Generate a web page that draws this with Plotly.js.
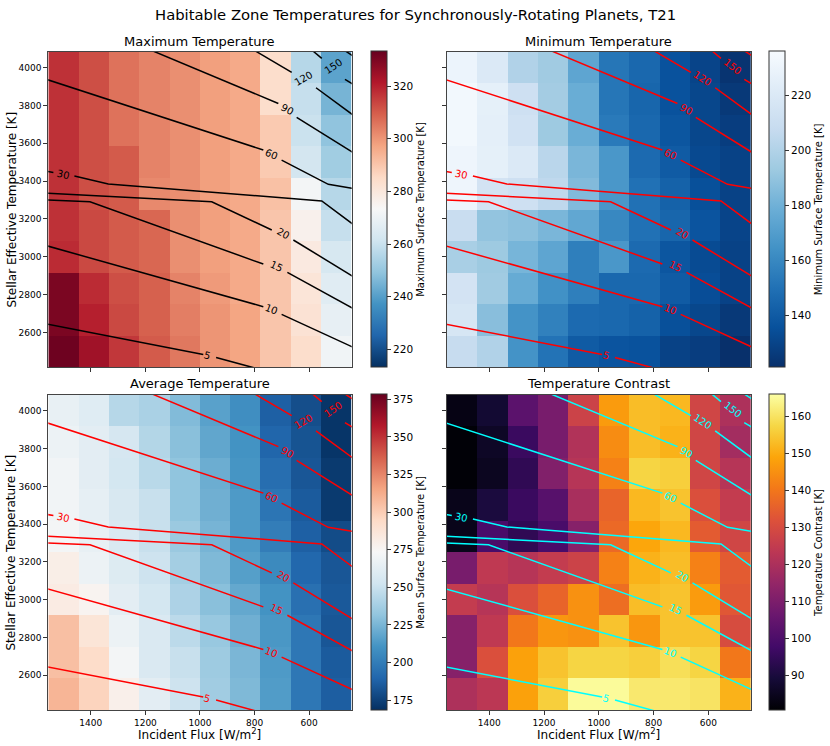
<!DOCTYPE html>
<html>
<head>
<meta charset="utf-8">
<script src="https://cdn.plot.ly/plotly-3.0.1.min.js"></script>
<style>
  body { margin: 0; background: #fff; }
  #chart { width: 830px; height: 746px; }
</style>
</head>
<body>
<div id="chart"></div>
<script>
// grid of the simulations
var flux = [1500, 1388.9, 1277.8, 1166.7, 1055.6, 944.4, 833.3, 722.2, 611.1, 500];
var teff = [2500, 2666.7, 2833.3, 3000, 3166.7, 3333.3, 3500, 3666.7, 3833.3, 4000];

// rows go from the coolest star (2500 K) up to 4000 K, columns follow flux
var maxTemp = [
  [332, 324, 316, 310, 305, 300, 297, 290, 284, 271],
  [330, 320, 313, 309, 304, 300, 297, 290, 282, 268],
  [330, 318, 312, 309, 303, 299, 296, 290, 281, 266],
  [318, 313, 310, 308, 301, 298, 296, 290, 279, 263],
  [317, 313, 310, 308, 301, 298, 296, 290, 276, 259],
  [317, 312, 310, 302, 301, 298, 296, 291, 272, 256],
  [317, 312, 310, 303, 301, 298, 296, 289, 262, 252],
  [317, 312, 306, 303, 301, 298, 296, 289, 260, 249],
  [317, 312, 306, 303, 301, 298, 296, 284, 259, 245],
  [317, 312, 306, 303, 301, 298, 296, 284, 256, 241]
];

var minTemp = [
  [208, 200, 165, 151, 140, 137, 136, 129, 127, 121],
  [217, 187, 165, 157, 147, 146, 143, 135, 131, 125],
  [215, 194, 177, 164, 156, 146, 146, 140, 134, 129],
  [197, 193, 182, 174, 156, 167, 147, 138, 133, 129],
  [209, 190, 188, 183, 175, 160, 150, 145, 137, 130],
  [231, 215, 212, 205, 185, 167, 150, 143, 135, 129],
  [231, 226, 220, 203, 183, 167, 147, 140, 132, 129],
  [233, 225, 214, 193, 178, 154, 146, 138, 131, 127],
  [233, 226, 212, 195, 178, 152, 145, 136, 131, 125],
  [230, 220, 200, 194, 174, 152, 146, 136, 130, 123]
];

var meanTemp = [
  [309, 297, 279, 262, 251, 236, 226, 214, 197, 186],
  [305, 293, 271, 257, 249, 235, 225, 213, 197, 185],
  [305, 287, 267, 257, 245, 233, 222, 212, 197, 183],
  [282, 276, 262, 254, 240, 229, 219, 210, 194, 184],
  [280, 267, 259, 251, 237, 226, 215, 206, 190, 183],
  [271, 265, 257, 249, 234, 224, 213, 200, 187, 179],
  [270, 264, 256, 249, 231, 222, 213, 196, 185, 172],
  [270, 262, 254, 244, 231, 221, 211, 193, 183, 172],
  [267, 262, 255, 242, 229, 218, 210, 189, 182, 170],
  [265, 260, 243, 239, 227, 216, 208, 187, 180, 170]
];

var contrast = [
  [120, 123, 148, 156, 165, 165, 161, 161, 160, 151],
  [112, 131, 148, 154, 157, 157, 156, 159, 157, 140],
  [112, 124, 140, 146, 145, 154, 146, 154, 154, 130],
  [125, 122, 131, 136, 145, 138, 153, 154, 147, 133],
  [109, 124, 122, 125, 127, 142, 151, 153, 142, 134],
  [84, 99, 94, 99, 112, 137, 149, 152, 134, 128],
  [84, 90, 96, 102, 119, 136, 152, 154, 131, 125],
  [81, 85, 94, 111, 122, 142, 157, 156, 128, 122],
  [81, 86, 96, 109, 121, 144, 153, 151, 128, 118],
  [83, 88, 103, 109, 127, 147, 153, 152, 128, 120]
];

// rotation period contours (days); null = gap for the label
var contourFlux = [
  [1560, 988, null, 941, 811, 650],                 // 5
  [1560, 768, null, 701, 444, 400],                 // 10
  [1560, 1403, 768, null, 680, 444, 400],           // 15
  [1560, 957, 737, null, 658, 444, 400],            // 20
  [1560, 1537, null, 1460, 1336, 554, 444, 400],    // 30
  [1560, 768, null, 701, 530, 444, 400],            // 60
  [1300, 1165, 713, null, 646, 444, 400],           // 90
  [850, 792, 664, null, 575, 444, 400],             // 120
  [620, 585, 554, null, 469, 444, 400],             // 150
  [500, 463, 444, 400]                              // 180
];
var contourTeff = [
  [2645, 2485, null, 2469, 2417, 2354],
  [3058, 2737, null, 2696, 2526, 2497],
  [3300, 3291, 2962, null, 2918, 2732, 2697],
  [3336, 3291, 3142, null, 3089, 2901, 2862],
  [3451, 3446, null, 3427, 3385, 3295, 3177, 3130],
  [3936, 3564, null, 3511, 3383, 3362, 3351],
  [4164, 4083, 3810, null, 3737, 3555, 3515],
  [4132, 4083, 3974, null, 3893, 3754, 3707],
  [4128, 4083, 4048, null, 3937, 3916, 3878],
  [4119, 4083, 4065, 4022]
];

var labelText = ['5', '10', '15', '20', '30', '60', '90', '120', '150'];
var labelFlux = [973, 737, 719, 695, 1501, 737, 680, 621, 512];
var labelTeff = [2480, 2723, 2948, 3124, 3437, 3541, 3779, 3942, 4004];
var labelAngle = [15, 21, 25, 29, 12, 23, 28, 33, 38];
var labelAngleFlip = [15, 21, 25, 29, 12, 23, 28, -30, -34];

var RdBu_r = [[0, '#053061'], [0.1, '#2166ac'], [0.2, '#4393c3'], [0.3, '#92c5de'], [0.4, '#d1e5f0'],
  [0.5, '#f7f7f7'], [0.6, '#fddbc7'], [0.7, '#f4a582'], [0.8, '#d6604d'], [0.9, '#b2182b'], [1, '#67001f']];
var Blues_r = [[0, '#08306b'], [0.125, '#08519c'], [0.25, '#2171b5'], [0.375, '#4292c6'], [0.5, '#6baed6'],
  [0.625, '#9ecae1'], [0.75, '#c6dbef'], [0.875, '#deebf7'], [1, '#f7fbff']];
var Inferno = [[0, '#000004'], [0.1, '#160b39'], [0.2, '#420a68'], [0.3, '#6a176e'], [0.4, '#932667'],
  [0.5, '#bc3754'], [0.6, '#dd513a'], [0.7, '#f37819'], [0.8, '#fca50a'], [0.9, '#f6d746'], [1, '#fcffa4']];

var panels = [
  {title: 'Maximum Temperature', z: maxTemp, scale: RdBu_r, zmin: 213.15, zmax: 333.15, dtick: 20,
   cbTitle: 'Maximum Surface Temperature [K]', line: 'black', angles: labelAngleFlip},
  {title: 'Minimum Temperature', z: minTemp, scale: Blues_r, zmin: 121.2, zmax: 236.1, dtick: 20,
   cbTitle: 'Minimum Surface Temperature [K]', line: 'red', angles: labelAngle},
  {title: 'Average Temperature', z: meanTemp, scale: RdBu_r, zmin: 168.15, zmax: 378.15, dtick: 25,
   cbTitle: 'Mean Surface Temperature [K]', line: 'red', angles: labelAngleFlip},
  {title: 'Temperature Contrast', z: contrast, scale: Inferno, zmin: 80.5, zmax: 165.9, dtick: 10,
   cbTitle: 'Temperature Contrast [K]', line: 'cyan', angles: labelAngle}
];

var xDom = [[0.0582, 0.4237], [0.5382, 0.9048]];
var yDom = [[0.5076, 0.9307], [0.0483, 0.4705]];
var cbX = [0.4466, 0.9269];
var cbY = [0.7192, 0.2594];

var font = 'DejaVu Sans';
var data = [];
var layout = {
  width: 830,
  height: 746,
  margin: {l: 0, r: 0, t: 0, b: 0},
  paper_bgcolor: 'white',
  plot_bgcolor: 'white',
  showlegend: false,
  font: {family: font, color: '#000'},
  annotations: [{
    text: 'Habitable Zone Temperatures for Synchronously-Rotating Planets, T21',
    xref: 'paper', yref: 'paper', x: 0.5, y: 0.9812, xanchor: 'center', yanchor: 'middle',
    showarrow: false, font: {size: 14.8}
  }]
};

// join the contour pieces into one line trace per panel
var allFlux = [];
var allTeff = [];
for (var c = 0; c < contourFlux.length; c++) {
  allFlux = allFlux.concat(contourFlux[c], [null]);
  allTeff = allTeff.concat(contourTeff[c], [null]);
}

for (var i = 0; i < panels.length; i++) {
  var p = panels[i];
  var col = i % 2;
  var row = Math.floor(i / 2);
  var sfx = i === 0 ? '' : String(i + 1);

  data.push({
    type: 'heatmap',
    x: flux,
    y: teff,
    z: p.z,
    xaxis: 'x' + sfx,
    yaxis: 'y' + sfx,
    colorscale: p.scale,
    zmin: p.zmin,
    zmax: p.zmax,
    hoverinfo: 'skip',
    colorbar: {
      x: cbX[col], xanchor: 'left', y: cbY[row], yanchor: 'middle',
      len: 0.4231, lenmode: 'fraction', thickness: 16, thicknessmode: 'pixels',
      xpad: 0, ypad: 0, outlinewidth: 1, outlinecolor: '#333',
      ticks: 'outside', ticklen: 4, tickcolor: '#333',
      tick0: 0, dtick: p.dtick,
      tickfont: {size: 10.5},
      title: {text: p.cbTitle, side: 'right', font: {size: 10}}
    }
  });

  data.push({
    type: 'scatter',
    mode: 'lines',
    x: allFlux,
    y: allTeff,
    xaxis: 'x' + sfx,
    yaxis: 'y' + sfx,
    line: {color: p.line, width: 1.5},
    hoverinfo: 'skip'
  });

  layout['xaxis' + sfx] = {
    domain: xDom[col], anchor: 'y' + sfx,
    range: [1555.6, 444.4],
    tickvals: [600, 800, 1000, 1200, 1400],
    showticklabels: row === 1,
    ticks: 'outside', ticklen: 4, tickcolor: '#333',
    tickfont: {size: 9},
    showline: true, mirror: true, linecolor: '#444', linewidth: 1,
    showgrid: false, zeroline: false
  };
  layout['yaxis' + sfx] = {
    domain: yDom[row], anchor: 'x' + sfx,
    range: [2416.7, 4083.3],
    tickvals: [2600, 2800, 3000, 3200, 3400, 3600, 3800, 4000],
    showticklabels: col === 0,
    ticks: 'outside', ticklen: 4, tickcolor: '#333',
    tickfont: {size: 9},
    showline: true, mirror: true, linecolor: '#444', linewidth: 1,
    showgrid: false, zeroline: false
  };

  var xMid = (xDom[col][0] + xDom[col][1]) / 2;
  var yMid = (yDom[row][0] + yDom[row][1]) / 2;

  layout.annotations.push({
    text: p.title, xref: 'paper', yref: 'paper', x: xMid, y: row === 0 ? 0.9437 : 0.4853,
    xanchor: 'center', yanchor: 'middle', showarrow: false, font: {size: 13}
  });
  if (col === 0) {
    layout.annotations.push({
      text: 'Stellar Effective Temperature [K]', xref: 'paper', yref: 'paper',
      x: 0.0133, y: yMid, xanchor: 'center', yanchor: 'middle',
      textangle: -90, showarrow: false, font: {size: 12}
    });
  }
  if (row === 1) {
    layout.annotations.push({
      text: 'Incident Flux [W/m<sup>2</sup>]', xref: 'paper', yref: 'paper',
      x: xMid, y: 0.0155, xanchor: 'center', yanchor: 'middle',
      showarrow: false, font: {size: 12}
    });
  }

  for (var k = 0; k < labelText.length; k++) {
    layout.annotations.push({
      text: labelText[k],
      xref: 'x' + sfx, yref: 'y' + sfx,
      x: labelFlux[k], y: labelTeff[k],
      textangle: p.angles[k],
      showarrow: false,
      font: {size: 10, color: p.line}
    });
  }
}

Plotly.newPlot('chart', data, layout, {displayModeBar: false, staticPlot: true});
</script>
</body>
</html>
